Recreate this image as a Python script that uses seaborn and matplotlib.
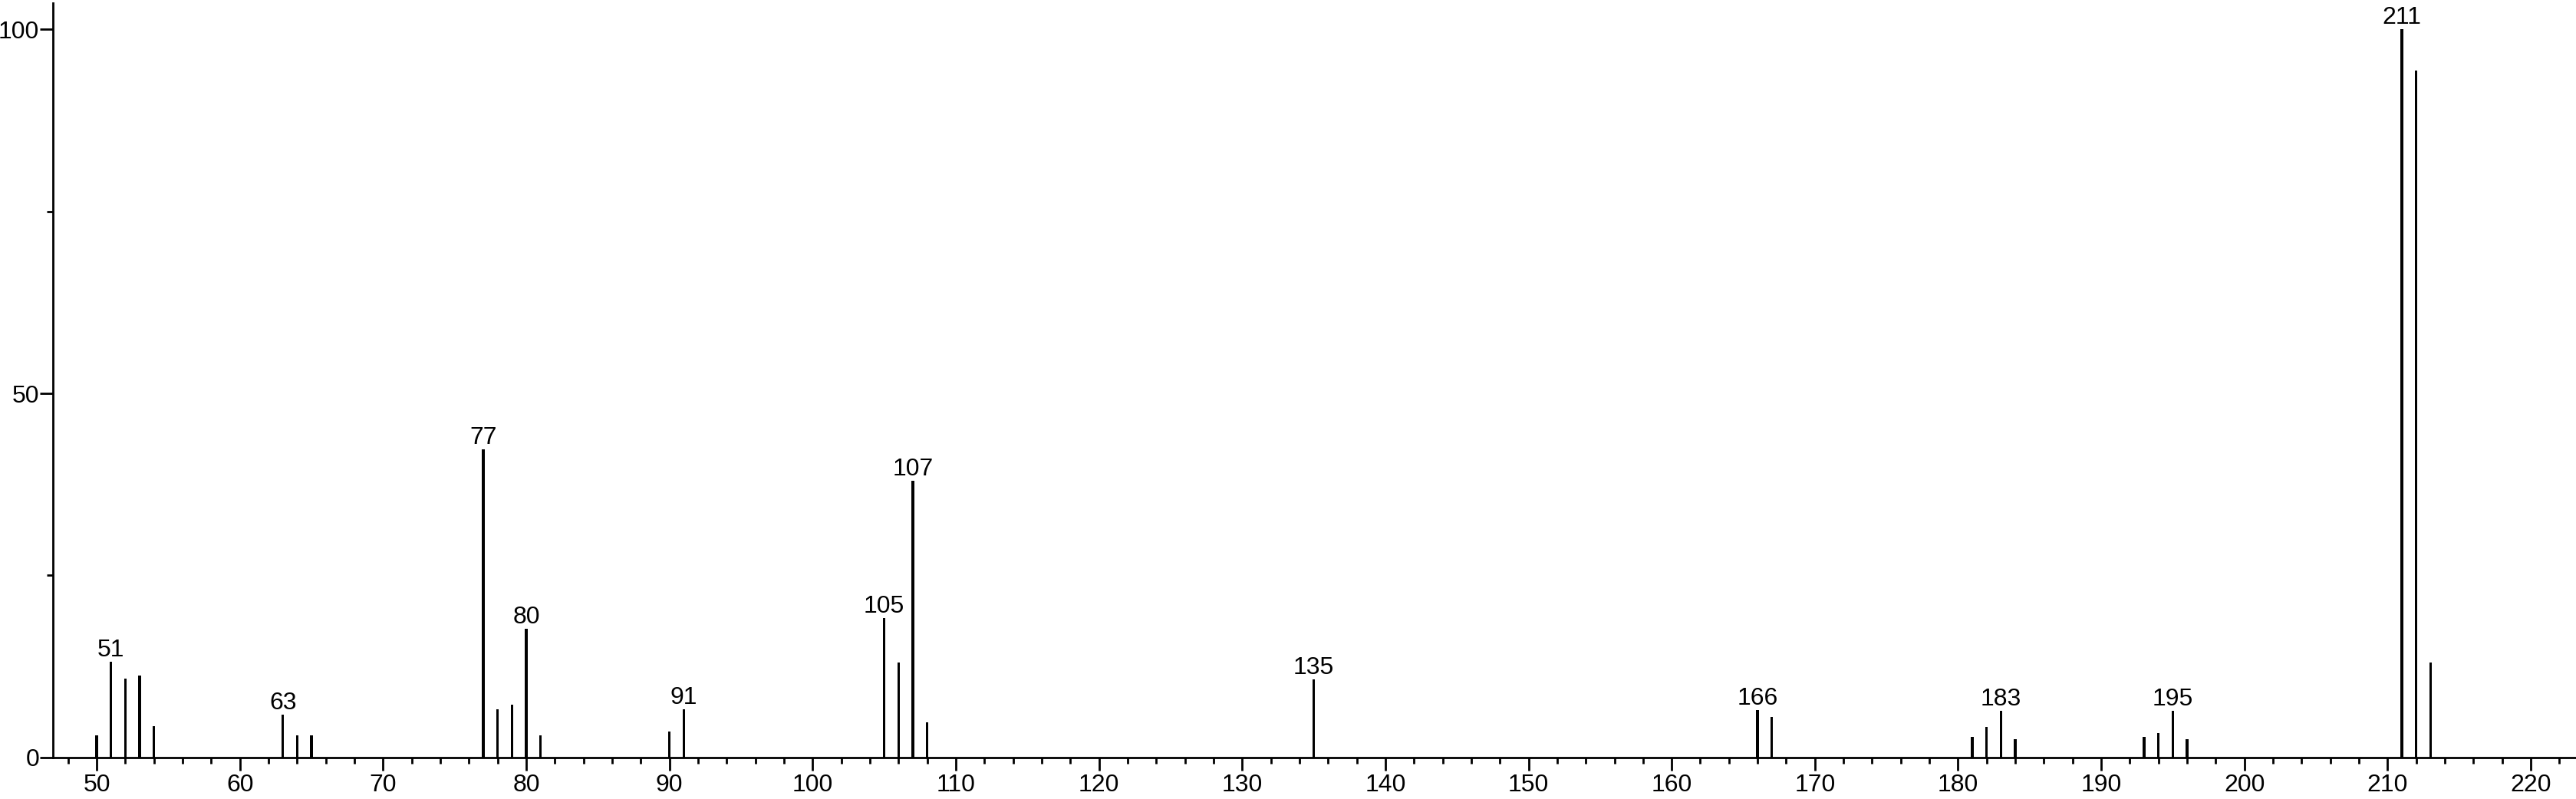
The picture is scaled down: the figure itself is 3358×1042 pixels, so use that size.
import numpy as np
import pandas as pd
import matplotlib
matplotlib.use("Agg")
import matplotlib.pyplot as plt
from matplotlib.ticker import MultipleLocator
import seaborn as sns

# m/z values and relative intensities
mz = [50, 51, 52, 53, 54, 63, 64, 65, 77, 78, 79, 80, 81, 90, 91,
      105, 106, 107, 108, 135, 166, 167, 181, 182, 183, 184,
      193, 194, 195, 196, 211, 212, 213]
intensity = [3.0, 13.1, 10.8, 11.2, 4.3, 5.9, 3.0, 3.0, 42.3, 6.6, 7.2, 17.7, 3.0, 3.6, 6.6,
             19.2, 13.0, 38.0, 4.8, 10.7, 6.5, 5.6, 2.8, 4.2, 6.4, 2.5,
             2.8, 3.4, 6.4, 2.5, 100.0, 94.4, 13.0]
labelled = [51, 63, 77, 80, 91, 105, 107, 135, 166, 183, 195, 211]

x_ticks = list(range(50, 230, 10))
y_ticks = [0, 50, 100]

df = pd.DataFrame({"mz": mz, "intensity": intensity})

sns.set_theme(style="ticks")
plt.rcParams.update({
    "font.family": ["Liberation Sans", "DejaVu Sans"],
    "font.size": 23,
    "axes.linewidth": 2.0,
})

fig = plt.figure(figsize=(33.58, 10.42), dpi=100)
ax = fig.add_axes([0.0206, 0.052, 0.9794, 0.944])

sns.histplot(data=df, x="mz", weights="intensity", discrete=True, shrink=0.18,
             color="black", alpha=1.0, linewidth=0, ax=ax)

for m, h in zip(mz, intensity):
    if m in labelled:
        ax.annotate(str(m), (m, h), xytext=(0, 0), textcoords="offset points",
                    ha="center", va="bottom", fontsize=23, color="black",
                    annotation_clip=False)

ax.set_xlim(46.95, 223.16)
ax.set_ylim(0, 103.6)
ax.set_xticks(x_ticks)
ax.set_yticks(y_ticks)
ax.xaxis.set_minor_locator(MultipleLocator(2))
ax.yaxis.set_minor_locator(MultipleLocator(25))
ax.tick_params(axis="x", which="major", length=12, width=2.0, labelsize=23,
               colors="black", pad=3)
ax.tick_params(axis="y", which="major", length=12, width=2.0, labelsize=23,
               colors="black", pad=1)
ax.tick_params(axis="both", which="minor", length=6, width=2.0, colors="black")
ax.set_xlabel("")
ax.set_ylabel("")
sns.despine(ax=ax)
for s in ["left", "bottom"]:
    ax.spines[s].set_color("black")

fig.savefig("out.png", dpi=100, facecolor="white")
